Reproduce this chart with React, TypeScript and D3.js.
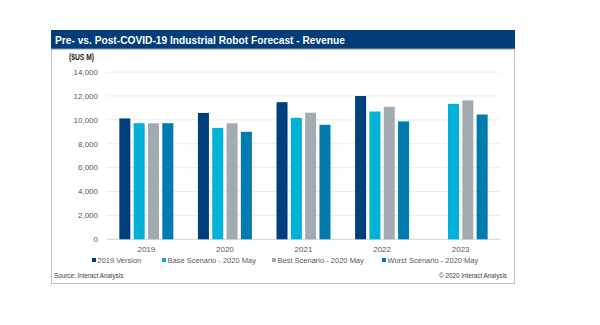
import React from "react";
import * as d3 from "d3";

const years = ["2019", "2020", "2021", "2022", "2023"];
const seriesNames = [
  "2019 Version",
  "Base Scenario - 2020 May",
  "Best Scenario - 2020 May",
  "Worst Scenario - 2020 May",
];
const v2019Version: (number | null)[] = [10120, 10580, 11480, 12000, null];
const baseScenario = [9720, 9330, 10170, 10700, 11340];
const bestScenario = [9720, 9720, 10600, 11100, 11630];
const worstScenario = [9720, 9000, 9590, 9870, 10450];
const seriesColors = ["#003f7e", "#00b1d8", "#a2abb2", "#007bb0"];
const yTicks = [0, 2000, 4000, 6000, 8000, 10000, 12000, 14000];

const allSeries = [v2019Version, baseScenario, bestScenario, worstScenario];

export default function App() {
  const W = 600, H = 325;
  const x0 = d3.scaleBand<string>().domain(years).range([107, 500]).paddingInner(0.313).paddingOuter(0.157);
  const x1 = d3.scaleBand<string>().domain(seriesNames).range([0, x0.bandwidth()]).paddingInner(0.23);
  const y = d3.scaleLinear().domain([0, 14000]).range([239.3, 72.1]);
  const fmt = d3.format(",");
  const font = "'Liberation Sans', Arial, sans-serif";
  const legendX = [92, 162, 272, 382];

  return (
    <svg width={W} height={H} style={{ position: "absolute", left: 0, top: 0 }} fontFamily={font}>
      <rect x={0} y={0} width={W} height={H} fill="#fff" />
      {/* frame */}
      <rect x={51.5} y={30.5} width={463} height={253} fill="#fff" stroke="#c4c4c4" strokeWidth={1} />
      <rect x={51} y={30} width={464} height={19} fill="#003d7b" />
      <line x1={51} x2={515} y1={49} y2={49} stroke="#7f9dc0" strokeWidth={1} />
      <text x={55} y={43.5} fill="#fff" fontWeight="bold" fontSize={11.5} textLength={290} lengthAdjust="spacingAndGlyphs">
        Pre- vs. Post-COVID-19 Industrial Robot Forecast - Revenue
      </text>
      <text x={69} y={59.5} fill="#222" fontWeight="bold" fontSize={8.5} textLength={25} lengthAdjust="spacingAndGlyphs">($US M)</text>
      {/* grid */}
      {yTicks.map((t) => (
        <g key={t}>
          <line x1={107} x2={500} y1={y(t)} y2={y(t)} stroke={t === 0 ? "#d4d4d4" : "#ececec"} strokeWidth={1} />
          <text x={98} y={y(t) + 2.8} textAnchor="end" fontSize={8} fill="#595959">{fmt(t)}</text>
        </g>
      ))}
      {/* bars */}
      {years.map((yr, i) => (
        <g key={yr} transform={`translate(${x0(yr)},0)`}>
          {allSeries.map((s, j) => {
            const v = s[i];
            if (v == null) return null;
            return (
              <rect key={j} x={x1(seriesNames[j])} y={y(v)} width={x1.bandwidth()} height={y(0) - y(v)} fill={seriesColors[j]} />
            );
          })}
          <text x={x0.bandwidth() / 2} y={251.5} textAnchor="middle" fontSize={8} fill="#595959">{yr}</text>
        </g>
      ))}
      {/* legend */}
      {seriesNames.map((n, j) => (
        <g key={n}>
          <rect x={legendX[j]} y={258} width={4} height={4} fill={seriesColors[j]} />
          <text x={legendX[j] + 5.5} y={262.5} fontSize={7.5} fill="#595959">{n}</text>
        </g>
      ))}
      <text x={54} y={278} fontSize={6.3} fill="#404040">Source: Interact Analysis</text>
      <text x={507} y={278} fontSize={6.3} fill="#404040" textAnchor="end">© 2020 Interact Analysis</text>
    </svg>
  );
}
